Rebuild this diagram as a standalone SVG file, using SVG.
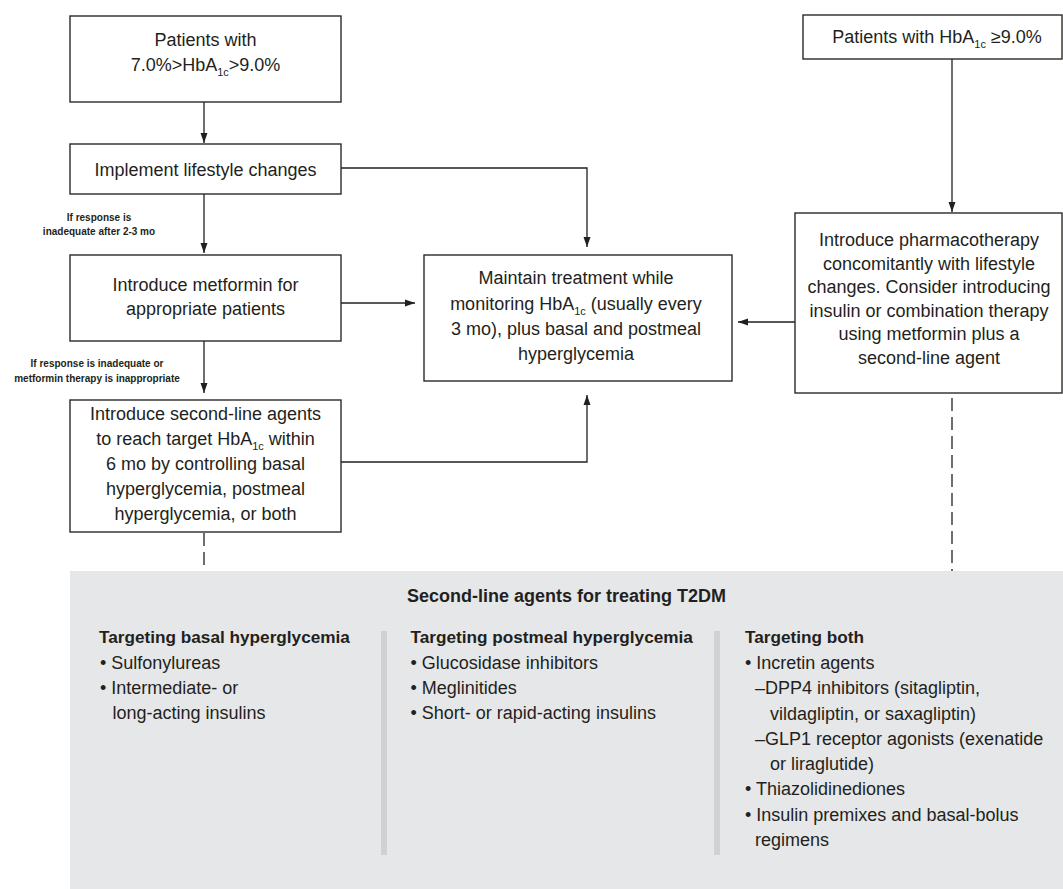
<svg xmlns="http://www.w3.org/2000/svg" width="1063" height="889" viewBox="0 0 1063 889">
<style>
  .box { fill: #ffffff; stroke: #2b2a29; stroke-width: 1.4; }
  .t { font-family: "Liberation Sans", Arial, sans-serif; font-size: 18px; fill: #231f20; text-anchor: middle; }
  .sub { font-size: 11px; }
  .lbl { font-family: "Liberation Sans", Arial, sans-serif; font-size: 10px; font-weight: bold; fill: #231f20; text-anchor: middle; }
  .conn { fill: none; stroke: #231f20; stroke-width: 1.3; }
  .dash { fill: none; stroke: #231f20; stroke-width: 1.3; stroke-dasharray: 13 6; }
  .ph { font-family: "Liberation Sans", Arial, sans-serif; font-size: 17.2px; font-weight: bold; fill: #231f20; }
  .pi { font-family: "Liberation Sans", Arial, sans-serif; font-size: 18px; fill: #231f20; }
  .title { font-family: "Liberation Sans", Arial, sans-serif; font-size: 18px; font-weight: bold; fill: #231f20; text-anchor: middle; }
</style>
<defs>
  <marker id="arr" viewBox="0 0 10 10" refX="10" refY="5" markerWidth="10" markerHeight="10" markerUnits="userSpaceOnUse" orient="auto">
    <path d="M0,1.5 L10,5 L0,8.5 Z" fill="#231f20"/>
  </marker>
</defs>
<rect width="1063" height="889" fill="#ffffff"/>

<g id="panel">
  <rect x="70" y="571" width="993" height="318" fill="#e6e7e8"/>
  <rect x="381" y="631" width="6" height="224" fill="#d0d1d3"/>
  <rect x="714" y="631" width="6" height="224" fill="#d0d1d3"/>
  <text class="title" x="566.5" y="602">Second-line agents for treating T2DM</text>
  <text class="ph" x="99" y="643">Targeting basal hyperglycemia</text>
  <text class="pi" x="100" y="668.5">• Sulfonylureas</text>
  <text class="pi" x="100" y="693.5">• Intermediate- or</text>
  <text class="pi" x="112.5" y="718.5">long-acting insulins</text>
  <text class="ph" x="410.5" y="643">Targeting postmeal hyperglycemia</text>
  <text class="pi" x="410.5" y="668.5">• Glucosidase inhibitors</text>
  <text class="pi" x="410.5" y="693.5">• Meglinitides</text>
  <text class="pi" x="410.5" y="718.5">• Short- or rapid-acting insulins</text>
  <text class="ph" x="745" y="643">Targeting both</text>
  <text class="pi" x="745" y="669">• Incretin agents</text>
  <text class="pi" x="755" y="694">–DPP4 inhibitors (sitagliptin,</text>
  <text class="pi" x="770" y="719.5">vildagliptin, or saxagliptin)</text>
  <text class="pi" x="755" y="744.5">–GLP1 receptor agonists (exenatide</text>
  <text class="pi" x="770" y="769.5">or liraglutide)</text>
  <text class="pi" x="745" y="795">• Thiazolidinediones</text>
  <text class="pi" x="745" y="821">• Insulin premixes and basal-bolus</text>
  <text class="pi" x="755" y="846">regimens</text>
</g>

<g id="connectors">
  <line class="conn" x1="204" y1="102" x2="204" y2="143" marker-end="url(#arr)"/>
  <line class="conn" x1="204" y1="194" x2="204" y2="253" marker-end="url(#arr)"/>
  <line class="conn" x1="204" y1="341" x2="204" y2="393" marker-end="url(#arr)"/>
  <polyline class="conn" points="341,168 587,168 587,247" marker-end="url(#arr)"/>
  <line class="conn" x1="341" y1="303" x2="415" y2="303" marker-end="url(#arr)"/>
  <polyline class="conn" points="341,462 587,462 587,395" marker-end="url(#arr)"/>
  <line class="conn" x1="952" y1="59" x2="952" y2="212" marker-end="url(#arr)"/>
  <line class="conn" x1="795" y1="322" x2="738" y2="322" marker-end="url(#arr)"/>
  <line class="dash" x1="204" y1="533" x2="204" y2="571"/>
  <line class="dash" x1="952" y1="398" x2="952" y2="571"/>
  <text class="lbl" x="99" y="221">If response is</text>
  <text class="lbl" x="99" y="235">inadequate after 2-3 mo</text>
  <text class="lbl" x="97" y="367">If response is inadequate or</text>
  <text class="lbl" x="97" y="382">metformin therapy is inappropriate</text>
</g>

<g id="node-patients-mid">
  <rect class="box" x="70" y="16" width="271" height="86"/>
  <text class="t" x="205.5" y="46">Patients with</text>
  <text class="t" x="205.5" y="71">7.0%&gt;HbA<tspan class="sub" dy="5">1c</tspan><tspan dy="-5">&gt;9.0%</tspan></text>
</g>

<g id="node-lifestyle">
  <rect class="box" x="70" y="144" width="271" height="50"/>
  <text class="t" x="205.5" y="176">Implement lifestyle changes</text>
</g>

<g id="node-metformin">
  <rect class="box" x="70" y="255" width="271" height="86"/>
  <text class="t" x="205.5" y="291">Introduce metformin for</text>
  <text class="t" x="205.5" y="315">appropriate patients</text>
</g>

<g id="node-secondline">
  <rect class="box" x="70" y="400" width="271" height="132"/>
  <text class="t" x="205.5" y="420">Introduce second-line agents</text>
  <text class="t" x="205.5" y="445">to reach target HbA<tspan class="sub" dy="5">1c</tspan><tspan dy="-5"> within</tspan></text>
  <text class="t" x="205.5" y="470">6 mo by controlling basal</text>
  <text class="t" x="205.5" y="495">hyperglycemia, postmeal</text>
  <text class="t" x="205.5" y="520">hyperglycemia, or both</text>
</g>

<g id="node-maintain">
  <rect class="box" x="424" y="255" width="308" height="126"/>
  <text class="t" x="576" y="284">Maintain treatment while</text>
  <text class="t" x="576" y="310">monitoring HbA<tspan class="sub" dy="5">1c</tspan><tspan dy="-5"> (usually every</tspan></text>
  <text class="t" x="576" y="335">3 mo), plus basal and postmeal</text>
  <text class="t" x="576" y="360">hyperglycemia</text>
</g>

<g id="node-patients-high">
  <rect class="box" x="803" y="15" width="259" height="44"/>
  <text class="t" x="937" y="43">Patients with HbA<tspan class="sub" dy="5">1c</tspan><tspan dy="-5"> ≥9.0%</tspan></text>
</g>

<g id="node-pharmacotherapy">
  <rect class="box" x="795" y="213" width="267" height="180"/>
  <text class="t" x="929" y="246">Introduce pharmacotherapy</text>
  <text class="t" x="929" y="269.5">concomitantly with lifestyle</text>
  <text class="t" x="929" y="293">changes. Consider introducing</text>
  <text class="t" x="929" y="316.5">insulin or combination therapy</text>
  <text class="t" x="929" y="340">using metformin plus a</text>
  <text class="t" x="929" y="364">second-line agent</text>
</g>
</svg>
